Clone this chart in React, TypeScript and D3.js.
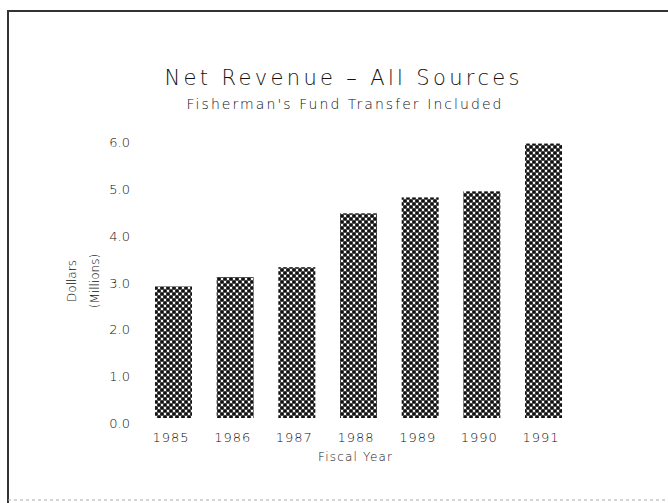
import * as React from "react";
import * as d3 from "d3";

const years = ["1985", "1986", "1987", "1988", "1989", "1990", "1991"];
const revenue = [2.81, 3.01, 3.22, 4.37, 4.71, 4.84, 5.86];
const yTickValues = [0, 1, 2, 3, 4, 5, 6];
const yTickLabels = ["0.0", "1.0", "2.0", "3.0", "4.0", "5.0", "6.0"];

const title = "Net Revenue \u2013 All Sources";
const subtitle = "Fisherman's Fund Transfer Included";
const xTitle = "Fiscal Year";
const yTitle = ["Dollars", "(Millions)"];

const width = 668;
const height = 503;
const font = "'DejaVu Sans', sans-serif";
const ink = "#111";

function App() {
  const xScale = d3
    .scaleBand<string>()
    .domain(years)
    .range([136.5, 580.5])
    .paddingInner(0.4)
    .paddingOuter(0.3);

  const yScale = d3.scaleLinear().domain([0, 6]).range([418, 137]);

  const barData = years.map((year, i) => ({ year, value: revenue[i] }));

  return (
    <div style={{ position: "absolute", left: 0, top: 0 }}>
      <svg width={width} height={height} style={{ display: "block", background: "#fff" }}>
        <defs>
          <pattern id="dots" width={6} height={6} patternUnits="userSpaceOnUse">
            <rect width={6} height={6} fill="#666" />
            <circle cx={0} cy={0} r={1.8} fill="#111" />
            <circle cx={6} cy={0} r={1.8} fill="#111" />
            <circle cx={0} cy={6} r={1.8} fill="#111" />
            <circle cx={6} cy={6} r={1.8} fill="#111" />
            <circle cx={3} cy={3} r={1.8} fill="#111" />
            <circle cx={3} cy={0} r={1.15} fill="#fff" />
            <circle cx={3} cy={6} r={1.15} fill="#fff" />
            <circle cx={0} cy={3} r={1.15} fill="#fff" />
            <circle cx={6} cy={3} r={1.15} fill="#fff" />
          </pattern>
        </defs>

        {/* frame */}
        <line x1={7} x2={width} y1={11} y2={11} stroke="#333" strokeWidth={2} />
        <line x1={8} x2={8} y1={10} y2={height} stroke="#333" strokeWidth={2} />
        <line
          x1={8}
          x2={width}
          y1={500}
          y2={500}
          stroke="#aaa"
          strokeWidth={1}
          strokeDasharray="3 3"
        />

        {/* titles */}
        <g fontFamily={font} fontWeight={200} fill={ink} textAnchor="middle">
          <text x={342} y={85} fontSize={21} textLength={355} lengthAdjust="spacing">
            {title}
          </text>
          <text x={344} y={109} fontSize={14} textLength={315} lengthAdjust="spacing">
            {subtitle}
          </text>
        </g>

        {/* bars */}
        {barData.map((d) => (
          <rect
            key={d.year}
            x={xScale(d.year)}
            y={yScale(d.value)}
            width={xScale.bandwidth()}
            height={yScale(0) - yScale(d.value)}
            fill="url(#dots)"
          />
        ))}

        {/* y axis labels */}
        <g fontFamily={font} fontWeight={200} fontSize={13} fill={ink} textAnchor="end">
          {yTickValues.map((v, i) => (
            <text key={v} x={130} y={yScale(v) + 10}>
              {yTickLabels[i]}
            </text>
          ))}
        </g>

        {/* x axis labels */}
        <g fontFamily={font} fontWeight={200} fontSize={13} fill={ink} textAnchor="middle">
          {years.map((year) => (
            <text
              key={year}
              x={(xScale(year) ?? 0) + xScale.bandwidth() / 2 - 3}
              y={442}
              textLength={36}
              lengthAdjust="spacing"
            >
              {year}
            </text>
          ))}
          <text x={355} y={461} fontSize={12} textLength={74} lengthAdjust="spacing">
            {xTitle}
          </text>
        </g>

        {/* y title */}
        <g fontFamily={font} fontWeight={200} fontSize={12} fill={ink} textAnchor="middle">
          <text transform="translate(76, 281) rotate(-90)">{yTitle[0]}</text>
          <text transform="translate(99, 281) rotate(-90)">{yTitle[1]}</text>
        </g>
      </svg>
    </div>
  );
}

export default App;
